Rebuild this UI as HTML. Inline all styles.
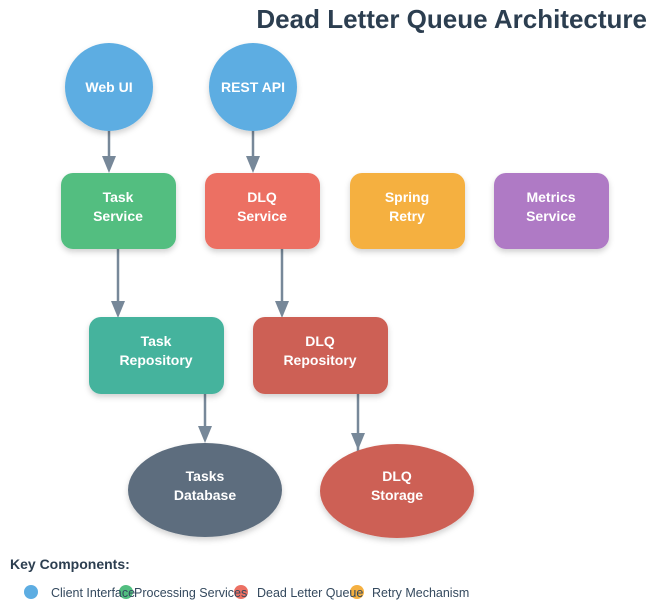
<!DOCTYPE html>
<html><head><meta charset="utf-8"><style>
html,body{margin:0;padding:0;background:#fff;}
svg{display:block;font-family:"Liberation Sans",Arial,sans-serif;}
</style></head><body>
<svg width="652" height="612" viewBox="0 0 652 612" xmlns="http://www.w3.org/2000/svg">
<defs>
<filter id="sh" x="-20%" y="-20%" width="140%" height="150%"><feDropShadow dx="0" dy="3" stdDeviation="3" flood-color="#000" flood-opacity="0.18"/></filter>
</defs>
<text x="647" y="28" text-anchor="end" font-size="26" font-weight="bold" fill="#2c3e50">Dead Letter Queue Architecture</text>

<g stroke="#778899" stroke-width="2.5" fill="#778899">
<line x1="109" y1="131" x2="109" y2="160"/><polygon points="102,156 116,156 109,173" stroke="none"/>
<line x1="253" y1="131" x2="253" y2="160"/><polygon points="246,156 260,156 253,173" stroke="none"/>
<line x1="118" y1="249" x2="118" y2="305"/><polygon points="111,301 125,301 118,318" stroke="none"/>
<line x1="282" y1="249" x2="282" y2="305"/><polygon points="275,301 289,301 282,318" stroke="none"/>
<line x1="205" y1="394" x2="205" y2="430"/><polygon points="198,426 212,426 205,443" stroke="none"/>
<line x1="358" y1="394" x2="358" y2="451"/><polygon points="351,433 365,433 358,450" stroke="none"/>
</g>

<g filter="url(#sh)">
<circle cx="109" cy="87" r="44" fill="#5dade2"/>
<circle cx="253" cy="87" r="44" fill="#5dade2"/>
<rect x="61" y="173" width="115" height="76" rx="12" fill="#52be80"/>
<rect x="205" y="173" width="115" height="76" rx="12" fill="#ec7063"/>
<rect x="350" y="173" width="115" height="76" rx="12" fill="#f5b041"/>
<rect x="494" y="173" width="115" height="76" rx="12" fill="#af7ac5"/>
<rect x="89" y="317" width="135" height="77" rx="12" fill="#45b39d"/>
<rect x="253" y="317" width="135" height="77" rx="12" fill="#cd6155"/>
<ellipse cx="205" cy="490" rx="77" ry="47" fill="#5d6d7e"/>
<ellipse cx="397" cy="491" rx="77" ry="47" fill="#cd6155"/>
</g>

<g fill="#fff" font-size="14" font-weight="bold" text-anchor="middle">
<text x="109" y="92">Web UI</text>
<text x="253" y="92">REST API</text>
<text x="118" y="202">Task</text><text x="118" y="221">Service</text>
<text x="262" y="202">DLQ</text><text x="262" y="221">Service</text>
<text x="407" y="202">Spring</text><text x="407" y="221">Retry</text>
<text x="551" y="202">Metrics</text><text x="551" y="221">Service</text>
<text x="156" y="346">Task</text><text x="156" y="365">Repository</text>
<text x="320" y="346">DLQ</text><text x="320" y="365">Repository</text>
<text x="205" y="481">Tasks</text><text x="205" y="500">Database</text>
<text x="397" y="481">DLQ</text><text x="397" y="500">Storage</text>
</g>

<text x="10" y="569" font-size="14" font-weight="bold" fill="#2c3e50">Key Components:</text>
<circle cx="31" cy="592" r="7" fill="#5dade2"/>
<circle cx="126" cy="592" r="7" fill="#52be80"/>
<circle cx="241" cy="592" r="7" fill="#ec7063"/>
<circle cx="357" cy="592" r="7" fill="#f5b041"/>
<g font-size="12.5" fill="#34495e">
<text x="51" y="597">Client Interface</text>
<text x="134" y="597">Processing Services</text>
<text x="257" y="597">Dead Letter Queue</text>
<text x="372" y="597">Retry Mechanism</text>
</g>
</svg>
</body></html>
